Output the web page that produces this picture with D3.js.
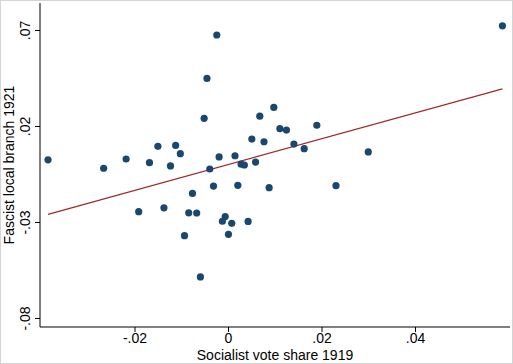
<!DOCTYPE html>
<html>
<head>
<meta charset="utf-8">
<script src="https://cdn.jsdelivr.net/npm/d3@7"></script>
<style>
  html, body { margin: 0; padding: 0; background: #fff; }
  svg { display: block; font-family: "Liberation Sans", Arial, sans-serif; }
</style>
</head>
<body>
<div id="chart"></div>
<script>
// Socialist vote share 1919 (x) vs Fascist local branch 1921 (y), residualised
const socialistVote = [
  -0.0385, -0.0266, -0.0218, -0.0191, -0.0168, -0.0150, -0.0137, -0.0123,
  -0.0112, -0.0102, -0.0093, -0.0084, -0.0076, -0.0067, -0.0059, -0.0051,
  -0.0045, -0.0039, -0.0031, -0.0024, -0.0019, -0.0012, -0.0006, 0.0001,
  0.0008, 0.0015, 0.0021, 0.0028, 0.0035, 0.0043, 0.0051, 0.0059,
  0.0068, 0.0077, 0.0088, 0.0098, 0.0111, 0.0125, 0.0141, 0.0163,
  0.0190, 0.0231, 0.0300, 0.0587
];
const fascistBranch = [
  0.0024, -0.0020, 0.0028, -0.0246, 0.0009, 0.0094, -0.0226, -0.0008,
  0.0099, 0.0056, -0.0371, -0.0252, -0.0151, -0.0253, -0.0586, 0.0240,
  0.0448, -0.0024, -0.0113, 0.0674, 0.0039, -0.0296, -0.0272, -0.0364,
  -0.0307, 0.0045, -0.0109, 0.0001, -0.0003, -0.0297, 0.0132, 0.0012,
  0.0251, 0.0118, -0.0121, 0.0297, 0.0186, 0.0179, 0.0106, 0.0082,
  0.0204, -0.0111, 0.0065, 0.0722
];
// fitted line
const fitIntercept = -0.0001;
const fitSlope = 0.672;

const xTicks = [-0.02, 0, 0.02, 0.04];
const xTickLabels = ["-.02", "0", ".02", ".04"];
const yTicks = [0.07, 0.02, -0.03, -0.08];
const yTickLabels = [".07", ".02", "-.03", "-.08"];
const xTitle = "Socialist vote share 1919";
const yTitle = "Fascist local branch 1921";

const width = 513, height = 364;
const margin = { left: 40, right: 3, top: 3, bottom: 37 };

const points = socialistVote.map((x, i) => ({ x, y: fascistBranch[i] }));

// x: 0 -> 228px, .02 -> 321.5px
const x = d3.scaleLinear()
  .domain([-0.02, 0.04])
  .range([134.5, 415]);
// y: .07 -> 30px, -.08 -> 318px
const y = d3.scaleLinear()
  .domain([0.07, -0.08])
  .range([30, 318]);

const svg = d3.select("#chart").append("svg")
  .attr("width", width)
  .attr("height", height);

svg.append("rect")
  .attr("x", 0.5).attr("y", 0.5)
  .attr("width", width - 1).attr("height", height - 1)
  .attr("fill", "#fff")
  .attr("stroke", "#d4d4d4");

// axes
const xAxis = d3.axisBottom(x)
  .tickValues(xTicks)
  .tickFormat((d, i) => xTickLabels[i])
  .tickSize(5)
  .tickSizeOuter(0);
const gx = svg.append("g")
  .attr("transform", `translate(0,${height - margin.bottom})`)
  .call(xAxis);
gx.select(".domain").attr("d", `M${margin.left},0H${width - margin.right}`);

const yAxis = d3.axisLeft(y)
  .tickValues(yTicks)
  .tickFormat((d, i) => yTickLabels[i])
  .tickSize(5)
  .tickSizeOuter(0);
const gy = svg.append("g")
  .attr("transform", `translate(${margin.left},0)`)
  .call(yAxis);
gy.select(".domain").attr("d", `M0,${margin.top}V${height - margin.bottom}`);

[gx, gy].forEach(g => {
  g.selectAll("path, line").attr("stroke", "#000").attr("stroke-width", 1);
  g.selectAll("text")
    .attr("fill", "#000")
    .style("font-size", "14px")
    .style("font-family", "'Liberation Sans', Arial, sans-serif");
});
gx.selectAll("text").attr("y", 6);
gy.selectAll("text")
  .attr("x", 0)
  .attr("dy", 0)
  .attr("text-anchor", "middle")
  .attr("transform", "translate(-10,0) rotate(-90)");

// titles, centred on the plot region
svg.append("text")
  .attr("x", (margin.left + width - margin.right) / 2)
  .attr("y", 360)
  .attr("text-anchor", "middle")
  .style("font-size", "14px")
  .text(xTitle);
svg.append("text")
  .attr("transform", `translate(14,${(margin.top + height - margin.bottom) / 2}) rotate(-90)`)
  .attr("text-anchor", "middle")
  .style("font-size", "14px")
  .text(yTitle);

// fitted line over the range of the data
const [x0, x1] = d3.extent(points, d => d.x);
svg.append("line")
  .attr("x1", x(x0)).attr("y1", y(fitIntercept + fitSlope * x0))
  .attr("x2", x(x1)).attr("y2", y(fitIntercept + fitSlope * x1))
  .attr("stroke", "#9e2a2b")
  .attr("stroke-width", 1.3);

svg.selectAll(".dot")
  .data(points)
  .enter()
  .append("circle")
  .attr("class", "dot")
  .attr("cx", d => x(d.x))
  .attr("cy", d => y(d.y))
  .attr("r", 3.6)
  .attr("fill", "#1a476f");
</script>
</body>
</html>
